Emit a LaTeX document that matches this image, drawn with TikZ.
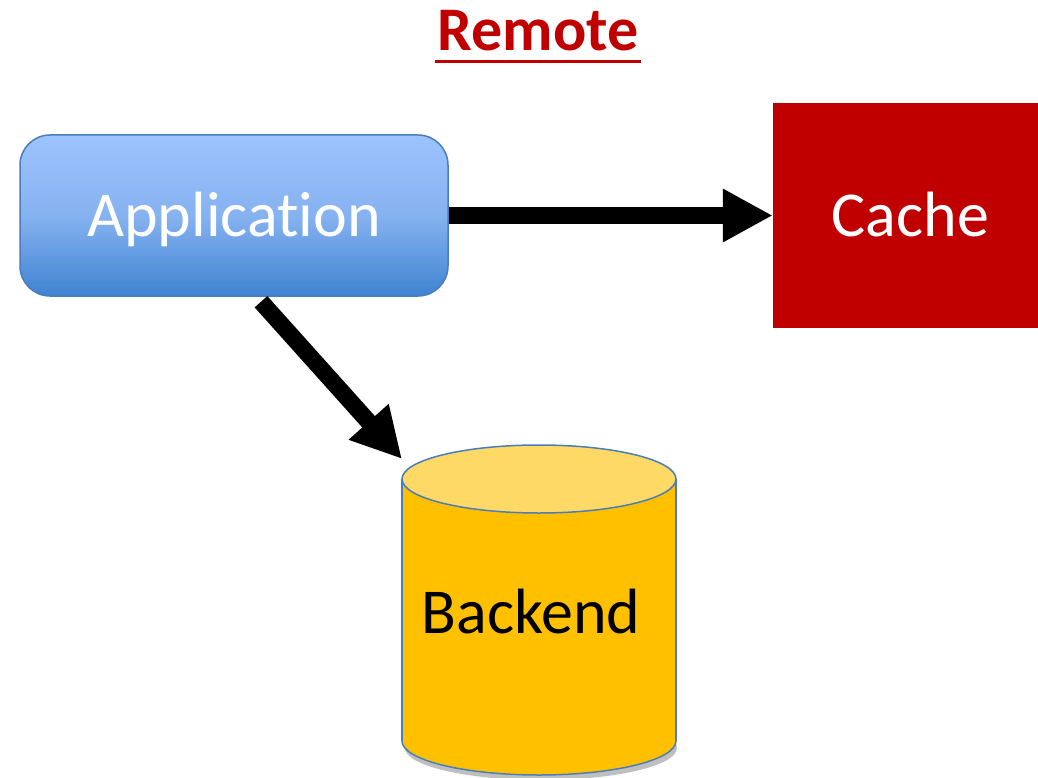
\documentclass[tikz,border=0pt]{standalone}
\usepackage{fontspec}
\setmainfont[Ligatures={NoCommon,NoRare,NoContextual}]{Carlito}
\usetikzlibrary{arrows.meta,calc}

\definecolor{titlered}{HTML}{C00000}
\definecolor{cachered}{HTML}{C00000}
\definecolor{apptop}{HTML}{9DC3FD}
\definecolor{appmid}{HTML}{86B2F0}
\definecolor{appbot}{HTML}{3F83D1}
\definecolor{edgeblue}{HTML}{4A7EBB}
\definecolor{dbbody}{HTML}{FFC000}
\definecolor{dbtop}{HTML}{FFD966}

\tikzset{
  bigfont/.style={font=\fontsize{64}{76}\selectfont},
  appbox/.style={draw=edgeblue, line width=1.5pt, rounded corners=30pt,
    top color=apptop, bottom color=appbot, middle color=appmid,
    minimum width=428pt, minimum height=161pt, inner sep=0pt,
    text=white, bigfont, text height=41pt, text depth=0pt},
  cachebox/.style={fill=cachered, minimum width=275pt, minimum height=225pt,
    inner sep=0pt, text=white, bigfont, text height=41pt, text depth=0pt},
  dblabel/.style={inner sep=0pt, text=black, bigfont, text height=41pt, text depth=0pt},
  bigarrow/.style={line width=17pt, draw=black,
    -{Triangle[length=50pt, width=50pt]}},
  dbedge/.style={draw=edgeblue, line width=1.5pt},
}

\begin{document}
\begin{tikzpicture}[x=1pt, y=-1pt]
  \path[use as bounding box, clip] (0,0) rectangle (1038,778);
  \fill[white] (0,0) rectangle (1038,778);

  % heading
  \node[anchor=base, inner sep=0pt, text=titlered,
        font=\fontsize{62}{74}\selectfont\bfseries] (title) at (538,51) {Remote};
  \draw[titlered, line width=3pt]
    ([yshift=-10.5pt, xshift=-2pt]title.base west) -- ([yshift=-10.5pt, xshift=2pt]title.base east);

  % application and cache
  \node[appbox] (app) at (234,215.5) {Application};
  \node[cachebox] (cache) at (910.5,215.5) {Cache};

  % backend cylinder
  \fill[black!25] (541,748) ellipse [x radius=136pt, y radius=32pt];
  \fill[dbbody] (539,741) ellipse [x radius=137pt, y radius=34pt];
  \draw[dbedge] (539,741) ellipse [x radius=137pt, y radius=34pt];
  \fill[dbbody] (402,479) rectangle (676,741);
  \draw[dbedge] (402,479) -- (402,741);
  \draw[dbedge] (676,479) -- (676,741);
  \filldraw[dbedge, fill=dbtop] (539,479) ellipse [x radius=137pt, y radius=34pt];
  \node[dblabel] (backend) at (531,613) {Backend};
  \coordinate (backendtop) at (402,459);

  % connectors
  \draw[bigarrow] (app.east) -- (cache.west);
  \draw[bigarrow] ($(app.south)+(27,5)$) -- (backendtop);
\end{tikzpicture}
\end{document}
